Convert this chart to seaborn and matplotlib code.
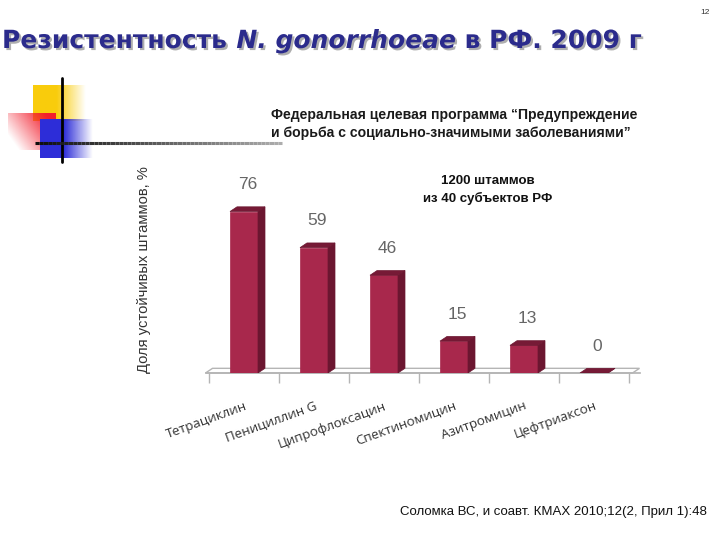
import numpy as np
import matplotlib
matplotlib.use("Agg")
import matplotlib.pyplot as plt
import matplotlib.patheffects as pe
from matplotlib.patches import Polygon
import pandas as pd
import seaborn as sns

# chart data
drugs = ["Тетрациклин", "Пенициллин G", "Ципрофлоксацин",
         "Спектиномицин", "Азитромицин", "Цефтриаксон"]
resistant_pct = [76, 59, 46, 15, 13, 0]

title_parts = ["Резистентность ", "N. gonorrhoeae", " в РФ. 2009 г"]
subtitle = "Федеральная целевая программа “Предупреждение\nи борьба с социально-значимыми заболеваниями”"
note = "1200 штаммов\nиз 40 субъектов РФ"
ylabel = "Доля устойчивых штаммов, %"
source = "Соломка ВС, и соавт. КМАХ 2010;12(2, Прил 1):48"

sns.set_theme(style="white")
plt.rcParams["font.family"] = ["Liberation Sans", "DejaVu Sans"]

df = pd.DataFrame({"drug": drugs, "pct": resistant_pct})

fig = plt.figure(figsize=(7.2, 5.4), dpi=100)
fig.patch.set_facecolor("white")

# background layer in pixel coordinates for slide decoration
bg = fig.add_axes([0, 0, 1, 1], zorder=-1)
bg.set_xlim(0, 720)
bg.set_ylim(540, 0)
bg.axis("off")


def fade(ax, x0, x1, y0, y1, rgb, solid=0.5):
    n = 100
    t = np.linspace(0, 1, n)
    img = np.ones((2, n, 4))
    img[..., :3] = rgb
    img[..., 3] = np.clip((1 - t) / (1 - solid), 0, 1)
    ax.imshow(img, extent=(x0, x1, y1, y0), aspect="auto", interpolation="bilinear")


fade(bg, 33, 86, 85, 121, (0.98, 0.80, 0.05), 0.45)
# red square: bright at top-right, fading to the left/bottom
n = 80
gx, gy = np.meshgrid(np.linspace(0, 1, n), np.linspace(0, 1, n))
red = np.ones((n, n, 4))
red[..., 0] = 0.95
red[..., 1] = 0.12
red[..., 2] = 0.18
red[..., 3] = np.clip(0.3 + 0.9 * gx - 0.5 * gy, 0, 1)
bg.imshow(red, extent=(8, 56, 150, 113), aspect="auto", interpolation="bilinear")
fade(bg, 40, 93, 119, 158, (0.18, 0.18, 0.85), 0.45)
bg.plot([62, 62], [78, 162], color="black", lw=2)
# horizontal line fading to gray
xs = np.linspace(35, 282, 60)
for i in range(len(xs) - 1):
    g = 0.05 + 0.65 * i / len(xs)
    bg.plot(xs[i:i + 2], [143, 143], color=(g, g, g), lw=2.2, solid_capstyle="butt")

# title pieces with shadow
renderer = fig.canvas.get_renderer()
x = 2
shadow = [pe.withSimplePatchShadow(offset=(1.5, -1.5), shadow_rgbFace="#9a9a9a", alpha=0.8)]
for i, part in enumerate(title_parts):
    t = fig.text(x / 720, 1 - 41 / 540, part, fontsize=18, fontweight="bold",
                 style="italic" if i == 1 else "normal", color="#2b2b8c",
                 family=["DejaVu Sans"], va="center", ha="left", path_effects=shadow)
    bb = t.get_window_extent(renderer)
    x += bb.width

fig.text(705 / 720, 1 - 13 / 540, "12", fontsize=6, color="#333", ha="center", va="center")
fig.text(271 / 720, 1 - 124 / 540, subtitle, fontsize=10.1, fontweight="bold",
         color="#1a1a1a", ha="left", va="center", linespacing=1.45)
fig.text(488 / 720, 1 - 190 / 540, note, fontsize=9.5, fontweight="bold",
         color="#111", ha="center", va="center", linespacing=1.55)
fig.text(400 / 720, 1 - 512 / 540, source, fontsize=9.5, color="#111",
         fontweight="medium", ha="left", va="center")

# main chart
ax = fig.add_axes([205.5 / 720, 167 / 540, 434 / 720, 170 / 540])
front = "#a8284c"
dark = "#6b1630"
sns.barplot(data=df, x="drug", y="pct", color=front, width=0.4, saturation=1,
            edgecolor=front, linewidth=0.5, ax=ax, zorder=3)
ax.set_xlim(-0.55, 5.65)
ax.set_ylim(0, 80)

dx, dy = 0.1, 2.2
# perspective floor
x_lo, x_hi = ax.get_xlim()
floor = Polygon([(x_lo, 0), (x_hi - dx, 0), (x_hi, dy), (x_lo + dx, dy)], closed=True,
                facecolor="white", edgecolor="#b5b5b5", lw=1, zorder=1, clip_on=False)
ax.add_patch(floor)

for p, v in zip(ax.patches[:len(resistant_pct)], resistant_pct):
    x0, w, h = p.get_x(), p.get_width(), p.get_height()
    side = Polygon([(x0 + w, 0), (x0 + w + dx, dy), (x0 + w + dx, h + dy), (x0 + w, h)],
                   closed=True, facecolor=dark, edgecolor=dark, lw=0.5, zorder=3)
    top = Polygon([(x0, h), (x0 + dx, h + dy), (x0 + w + dx, h + dy), (x0 + w, h)],
                  closed=True, facecolor="#761a36", edgecolor=dark, lw=0.5, zorder=4)
    ax.add_patch(side)
    ax.add_patch(top)
    ax.annotate(str(v), (x0 + (w + dx) / 2, h), xytext=(0, 14), textcoords="offset points",
                ha="center", va="bottom", fontsize=12.5, color="#666", annotation_clip=False)

for s in ["top", "right", "left"]:
    ax.spines[s].set_visible(False)
ax.spines["bottom"].set_color("#b5b5b5")
ax.set_yticks([])
ax.set_xlabel("")
ax.set_ylabel("")
ax.set_xticks(np.arange(-0.5, 6, 1), minor=True)
ax.tick_params(axis="x", which="minor", length=7, color="#b5b5b5", width=1, bottom=True)
ax.tick_params(axis="x", which="major", length=0, pad=19)
ax.set_xticks(range(len(drugs)))
ax.set_xticklabels(drugs, rotation=20, ha="right", rotation_mode="anchor",
                   fontsize=9.6, color="#333", family=["Open Sans", "DejaVu Sans"])
ax.set_facecolor("none")

fig.text(144 / 720, 1 - 270 / 540, ylabel, rotation=90, fontsize=10.6, color="#333",
         ha="center", va="center")

fig.savefig("out.png", dpi=100)
